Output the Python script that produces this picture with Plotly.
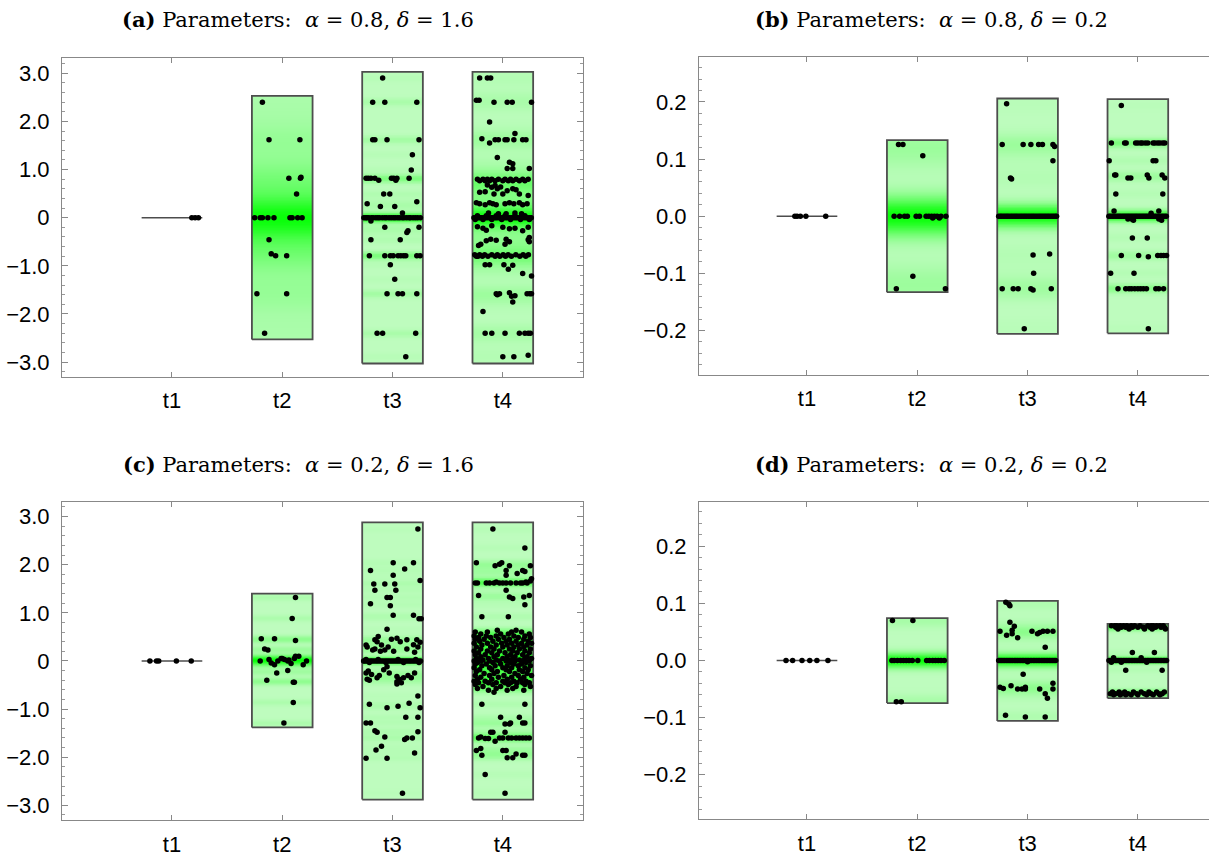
import numpy as np
import plotly.graph_objects as go

W, H = 1209, 857
CATS = ["t1", "t2", "t3", "t4"]
TITLES = [
    "<b>(a)</b> Parameters:  <i>α</i> = 0.8, <i>δ</i> = 1.6",
    "<b>(b)</b> Parameters:  <i>α</i> = 0.8, <i>δ</i> = 0.2",
    "<b>(c)</b> Parameters:  <i>α</i> = 0.2, <i>δ</i> = 1.6",
    "<b>(d)</b> Parameters:  <i>α</i> = 0.2, <i>δ</i> = 0.2",
]

# box extents per category (t1..t4)
A_LO = [0.0, -2.53, -3.03, -3.03]
A_HI = [0.0, 2.53, 3.03, 3.03]
B_LO = [0.0, -0.133, -0.206, -0.205]
B_HI = [0.0, 0.133, 0.206, 0.205]
C_LO = [0.0, -1.38, -2.88, -2.88]
C_HI = [0.0, 1.40, 2.88, 2.88]
D_LO = [0.0, -0.0745, -0.1057, -0.066]
D_HI = [0.0, 0.074, 0.1045, 0.064]

# points: rows of (value, [horizontal jitter offsets])
A_T1 = [(0.0, [0.18, 0.21, 0.24])]
A_T2 = [
    (2.40, [-0.18]), (1.62, [-0.12, 0.16]), (0.84, [0.17]), (0.82, [0.06, 0.165]),
    (0.49, [0.13]), (0.0, [-0.25, -0.2, -0.18, -0.13, -0.075, 0.07, 0.09, 0.14, 0.18]),
    (-0.46, [-0.12]), (-0.75, [-0.10]), (-0.79, [-0.06, 0.04]),
    (-1.58, [-0.23, 0.04]), (-2.40, [-0.16]),
]
A_T3 = [
    (2.90, [-0.09]), (2.40, [-0.18, -0.07, 0.22]), (1.62, [-0.18, -0.16, -0.05, 0.24]),
    (1.31, [0.18]), (0.99, [0.17]),
    (0.82, [-0.24, -0.22, -0.196, -0.16, -0.01, 0.01, 0.04, 0.15]), (0.78, [-0.125, 0.03]),
    (0.49, [-0.08, -0.025]), (0.33, [0.22]), (0.29, [-0.23]), (0.23, [-0.11, 0.02]), (0.10, [0.09]),
    (0.0, [-0.26, -0.243, -0.232, -0.214, -0.19, -0.176, -0.152, -0.134, -0.118, -0.093, -0.071,
           -0.056, -0.032, -0.012, 0.009, 0.027, 0.048, 0.066, 0.088, 0.104, 0.127, 0.149, 0.162,
           0.186, 0.207, 0.228, 0.253]),
    (-0.07, [-0.196]), (-0.2, [-0.07, 0.24]), (-0.27, [0.14]), (-0.31, [0.13]),
    (-0.46, [-0.196, 0.07]),
    (-0.79, [-0.21, -0.07, -0.02, 0.006, 0.05, 0.075, 0.1, 0.12, 0.22, 0.25]),
    (-0.98, [-0.02]), (-1.28, [0.02]), (-1.58, [-0.05, 0.05, 0.09, 0.22]),
    (-2.40, [-0.14, -0.09, 0.21]), (-2.89, [0.12]),
]
A_T4 = [
    (2.90, [-0.21, -0.14, -0.11]), (2.44, [-0.24, -0.215]), (2.40, [-0.08, 0.04, 0.085, 0.26]),
    (1.99, [-0.12]), (1.75, [0.11]), (1.64, [-0.19]),
    (1.62, [-0.07, -0.04, 0.02, 0.04, 0.10, 0.18, 0.21]), (1.55, [-0.12]), (1.25, [-0.05]),
    (1.15, [0.06]), (1.12, [0.09]), (1.02, [0.04, 0.09, 0.24]),
    (0.80, [-0.23, -0.18, -0.14, -0.10, -0.04, 0.02, 0.07, 0.12, 0.18, 0.23]),
    (0.77, [-0.21, -0.16, -0.12, -0.07, 0.0, 0.05, 0.09, 0.15, 0.2]),
    (0.68, [-0.14]), (0.67, [-0.07]), (0.64, [-0.02]), (0.63, [-0.10]), (0.60, [-0.05, 0.09]),
    (0.58, [0.12]), (0.56, [0.04]), (0.54, [-0.16]), (0.53, [-0.21]), (0.49, [-0.08, 0.0, 0.15]),
    (0.46, [0.23]),
    (0.31, [-0.24, -0.12, 0.06, 0.15]), (0.29, [-0.21, -0.09, 0.02, 0.10, 0.22]),
    (0.27, [-0.16, -0.06, 0.18]),
    (0.10, [-0.13, 0.11]), (0.08, [-0.04, 0.03, 0.17]),
    (0.04, [-0.23, -0.15, -0.06, 0.02, 0.11, 0.2]),
    (0.0, [-0.262, -0.25, -0.236, -0.22, -0.205, -0.19, -0.172, -0.158, -0.14, -0.122, -0.105,
           -0.09, -0.07, -0.055, -0.038, -0.02, -0.004, 0.012, 0.03, 0.045, 0.062, 0.08, 0.097,
           0.115, 0.13, 0.148, 0.166, 0.185, 0.204, 0.222, 0.24, 0.258]),
    (-0.04, [-0.25, -0.18, -0.1, -0.01, 0.07, 0.16, 0.24]),
    (-0.17, [-0.10]), (-0.19, [-0.23]), (-0.2, [0.0, 0.23]), (-0.22, [-0.18, 0.11]),
    (-0.23, [0.06]), (-0.26, [-0.15]), (-0.27, [0.18]),
    (-0.41, [0.24]), (-0.45, [-0.11, 0.03]), (-0.46, [0.23]), (-0.47, [-0.06]), (-0.48, [-0.15]),
    (-0.5, [0.06, 0.24]), (-0.55, [-0.2, 0.02]), (-0.58, [-0.22]),
    (-0.77, [-0.255, -0.21, -0.165, -0.10, -0.05, 0.003, 0.048, 0.118, 0.184, 0.232]),
    (-0.80, [-0.24, -0.225, -0.185, -0.135, -0.07, -0.027, 0.024, 0.078, 0.154, 0.208]),
    (-0.98, [-0.16, -0.12, 0.01]), (-0.99, [0.09]), (-1.07, [0.05]), (-1.16, [0.18]),
    (-1.21, [0.26]),
    (-1.58, [-0.06, -0.03, 0.22, 0.245, 0.26]), (-1.60, [-0.05]), (-1.56, [0.06]),
    (-1.63, [0.08]), (-1.62, [0.11]), (-1.75, [0.09]), (-1.95, [-0.18]),
    (-2.40, [-0.16, -0.10, 0.02, 0.15, 0.2, 0.23, 0.25]),
    (-2.89, [0.0, 0.10]), (-2.86, [0.23]),
]

B_T1 = [(0.0, [-0.11, -0.09, -0.06, -0.01, 0.17])]
B_T2 = [
    (0.1255, [-0.17, -0.13]), (0.106, [0.05]),
    (0.0, [-0.21, -0.16, -0.115, -0.09, -0.01, 0.02, 0.08, 0.105, 0.13, 0.155, 0.18, 0.215, 0.26]),
    (-0.003, [0.14, 0.2]),
    (-0.105, [-0.04]), (-0.127, [-0.19, 0.255]),
]
B_T3 = [
    (0.197, [-0.19]), (0.1255, [-0.23, -0.04, 0.03, 0.1, 0.135, 0.23]), (0.122, [0.245]),
    (0.097, [0.23]), (0.067, [-0.155]), (0.065, [-0.145]),
    (0.0, [-0.262, -0.248, -0.236, -0.221, -0.207, -0.193, -0.18, -0.166, -0.151, -0.137, -0.122,
           -0.108, -0.094, -0.081, -0.066, -0.052, -0.037, -0.023, -0.009, 0.006, 0.02, 0.035,
           0.049, 0.063, 0.078, 0.093, 0.107, 0.121, 0.136, 0.151, 0.165, 0.18, 0.194, 0.209,
           0.224, 0.238, 0.252, 0.263]),
    (-0.068, [0.05]), (-0.066, [0.2]), (-0.1, [0.055]),
    (-0.127, [-0.23, -0.13, -0.085, 0.03, 0.215]), (-0.129, [0.05]), (-0.197, [-0.03]),
]
B_T4 = [
    (0.194, [-0.15]),
    (0.128, [-0.24, -0.12, -0.106, -0.02, 0.0, 0.025, 0.04, 0.067, 0.09, 0.138, 0.155, 0.18,
             0.2, 0.226, 0.244]),
    (0.097, [-0.26, 0.138, 0.163]),
    (0.072, [-0.21, -0.2, 0.085, 0.22]), (0.067, [-0.09, -0.064, 0.1, 0.244]),
    (0.039, [-0.2, 0.226]), (0.009, [-0.216, 0.19]), (0.005, [0.12]),
    (0.0, [-0.263, -0.25, -0.234, -0.22, -0.205, -0.19, -0.176, -0.162, -0.147, -0.132, -0.118,
           -0.103, -0.089, -0.075, -0.06, -0.046, -0.031, -0.017, -0.003, 0.012, 0.026, 0.041,
           0.055, 0.07, 0.084, 0.099, 0.113, 0.128, 0.142, 0.157, 0.171, 0.186, 0.2, 0.215,
           0.229, 0.244, 0.258]),
    (-0.005, [-0.057, -0.09, 0.19]), (-0.007, [-0.04, 0.215]),
    (-0.038, [-0.05, 0.085]),
    (-0.069, [-0.15, 0.007, 0.18, 0.21, 0.233, 0.26]), (-0.071, [0.095]),
    (-0.1, [-0.247, -0.035]),
    (-0.127, [-0.18, -0.11, -0.08, -0.057, -0.028, 0.0, 0.025, 0.05, 0.078, 0.163, 0.19, 0.233]),
    (-0.197, [0.095]),
]

C_T1 = [(0.0, [-0.2, -0.14, -0.12, 0.04, 0.175])]
C_T2 = [
    (1.32, [0.12]), (0.885, [0.09]), (0.46, [-0.19, -0.07]), (0.425, [0.12]),
    (0.25, [-0.16]), (0.23, [-0.13]), (0.10, [0.15, 0.12]), (0.05, [-0.01, 0.0, 0.11]),
    (0.03, [-0.12, 0.02]), (0.02, [0.06]),
    (0.0, [-0.2, -0.04, 0.05, 0.22]), (-0.04, [-0.1]), (-0.05, [0.08]),
    (-0.08, [-0.07, 0.19]),
    (-0.2, [0.05]), (-0.25, [-0.05]), (-0.4, [-0.14]), (-0.44, [0.10, 0.11]),
    (-0.86, [0.1]), (-1.29, [0.015]),
]
C_T3 = [
    (2.74, [0.23]), (2.04, [0.006, 0.19]), (1.91, [0.11]), (1.88, [-0.2]), (1.78, [0.006]),
    (1.67, [0.25]), (1.6, [-0.17, -0.07, 0.02]), (1.47, [-0.16, 0.03]), (1.32, [-0.05, -0.02]),
    (1.19, [-0.2]), (1.15, [-0.02]), (0.95, [0.006, 0.19]), (0.88, [0.24, 0.26]),
    (0.66, [-0.05]), (0.51, [-0.13]), (0.47, [0.04]), (0.45, [-0.01]),
    (0.44, [-0.16, 0.13, 0.22]), (0.4, [-0.14, 0.07]), (0.39, [0.25]), (0.34, [0.19]),
    (0.33, [-0.24, -0.1]), (0.29, [-0.04, 0.23, -0.23]), (0.25, [-0.16, 0.13]),
    (0.23, [-0.07, -0.18]), (0.2, [-0.11, 0.01]), (0.18, [0.2]),
    (0.03, [-0.24, -0.13, 0.05, 0.21]),
    (0.0, [-0.262, -0.25, -0.233, -0.218, -0.2, -0.186, -0.168, -0.15, -0.134, -0.117, -0.1,
           -0.084, -0.066, -0.05, -0.033, -0.016, 0.0, 0.017, 0.034, 0.05, 0.067, 0.084, 0.1,
           0.118, 0.135, 0.152, 0.168, 0.186, 0.203, 0.22, 0.236, 0.254]),
    (-0.03, [-0.21, -0.06, 0.1, 0.24]),
    (-0.12, [-0.05]), (-0.18, [-0.08]), (-0.21, [-0.22]), (-0.25, [-0.24, -0.03, 0.2]),
    (-0.28, [-0.19]), (-0.3, [-0.12, 0.14]), (-0.32, [0.04]), (-0.35, [-0.14, 0.1, 0.17]),
    (-0.38, [0.06, -0.23]), (-0.4, [-0.21]), (-0.43, [0.04]), (-0.45, [0.08]), (-0.48, [0.04]),
    (-0.73, [0.23]), (-0.88, [0.15]), (-0.9, [-0.21]), (-0.94, [0.05]), (-0.97, [-0.05, 0.25]),
    (-1.17, [0.12, 0.23]), (-1.29, [-0.24, -0.2]), (-1.45, [-0.16]), (-1.47, [0.23]),
    (-1.48, [-0.14]), (-1.58, [-0.07]), (-1.6, [0.13, 0.18]), (-1.63, [0.11]),
    (-1.77, [-0.1]), (-1.85, [-0.15]), (-1.91, [0.2]), (-2.02, [-0.24, -0.05]),
    (-2.75, [0.09]),
]
C_T4 = [
    (2.74, [-0.09]), (2.35, [0.2]),
    (2.04, [-0.24, -0.01]), (2.01, [-0.03]), (1.98, [-0.07, 0.06, 0.25]), (1.88, [0.03, 0.18]),
    (1.86, [0.2]), (1.82, [0.13]), (1.78, [0.03]),
    (1.71, [0.26]), (1.66, [0.25]), (1.64, [-0.06, 0.21]),
    (1.62, [-0.25, -0.23, -0.15, -0.12, -0.08, -0.03, 0.0, 0.03, 0.07, 0.12, 0.16, 0.18, 0.22]),
    (1.47, [0.03]), (1.36, [-0.22, 0.24]), (1.33, [0.06, 0.19]), (1.30, [0.09]), (1.17, [0.2]),
    (0.92, [-0.19, 0.05]),
    (0.64, [-0.05, 0.12]),
    (0.60, [-0.25, -0.14, 0.08, 0.17]),
    (0.56, [-0.2, -0.02, 0.05, 0.24]),
    (0.52, [-0.26, -0.15, -0.06, 0.1, 0.2]),
    (0.49, [-0.22, -0.11, 0.01, 0.14, 0.25]),
    (0.45, [-0.25, -0.17, -0.04, 0.06, 0.19]),
    (0.41, [-0.21, -0.09, 0.03, 0.12, 0.23]),
    (0.37, [-0.26, -0.14, -0.01, 0.08, 0.17, 0.26]),
    (0.33, [-0.19, -0.06, 0.04, 0.14, 0.22]),
    (0.29, [-0.24, -0.11, 0.0, 0.1, 0.19]),
    (0.25, [-0.2, -0.08, 0.06, 0.15, 0.25]),
    (0.21, [-0.26, -0.14, -0.03, 0.09, 0.2]),
    (0.17, [-0.22, -0.1, 0.02, 0.13, 0.24]),
    (0.13, [-0.25, -0.16, -0.05, 0.07, 0.18]),
    (0.09, [-0.2, -0.08, 0.04, 0.11, 0.22]),
    (0.05, [-0.24, -0.13, 0.0, 0.09, 0.2, 0.26]),
    (0.02, [-0.18, -0.06, 0.05, 0.15]),
    (0.0, [-0.26, -0.2, -0.12, -0.03, 0.03, 0.11, 0.18, 0.24]),
    (-0.03, [-0.23, -0.09, 0.07, 0.21]),
    (-0.06, [-0.25, -0.15, -0.02, 0.1, 0.17]),
    (-0.1, [-0.19, -0.07, 0.04, 0.14, 0.25]),
    (-0.14, [-0.26, -0.12, 0.0, 0.08, 0.2]),
    (-0.18, [-0.21, -0.1, 0.03, 0.15, 0.23]),
    (-0.22, [-0.24, -0.05, 0.06, 0.18]),
    (-0.26, [-0.17, -0.08, 0.11, 0.22]),
    (-0.3, [-0.25, -0.12, 0.01, 0.14, 0.26]),
    (-0.34, [-0.2, -0.04, 0.08, 0.19]),
    (-0.38, [-0.23, -0.1, 0.04, 0.16]),
    (-0.42, [-0.26, -0.16, 0.0, 0.1, 0.21]),
    (-0.45, [-0.22, -0.13, -0.06, 0.02, 0.07, 0.13, 0.18, 0.24]),
    (-0.49, [-0.25, -0.09, 0.05, 0.2]),
    (-0.53, [-0.18, -0.02, 0.12, 0.25]),
    (-0.57, [-0.23, -0.06, 0.09]),
    (-0.61, [-0.13, 0.04, 0.19]),
    (-0.65, [-0.08]),
    (-0.9, [-0.19, 0.2]), (-1.17, [-0.02, 0.15]), (-1.29, [0.07, 0.18, 0.2]),
    (-1.31, [0.02, 0.06]),
    (-1.48, [-0.11, -0.09, 0.02]), (-1.58, [-0.2]),
    (-1.6, [-0.22, -0.03, 0.0, 0.05, 0.08, 0.12, 0.15, 0.18, 0.21, 0.24]),
    (-1.61, [-0.16, -0.13]), (-1.67, [-0.07]),
    (-1.82, [-0.2]), (-1.86, [-0.24, 0.0, 0.03]), (-1.93, [0.12]), (-1.96, [-0.19, 0.18, 0.2]),
    (-2.01, [0.04, 0.09]), (-2.36, [-0.16]), (-2.75, [0.02]),
]

D_T1 = [(0.0, [-0.19, -0.13, -0.045, 0.025, 0.09, 0.19])]
D_T2 = [
    (0.07, [-0.225, -0.04]), (-0.072, [-0.19, -0.145]),
    (0.0, [-0.23, -0.21, -0.18, -0.15, -0.125, -0.10, -0.075, -0.045, 0.005, 0.085, 0.11, 0.14,
           0.165, 0.19, 0.215, 0.245]),
]
D_T3 = [
    (0.102, [-0.197]), (0.099, [-0.17]), (0.096, [-0.16]), (0.067, [-0.16]), (0.06, [-0.12]),
    (0.053, [-0.14]), (0.051, [-0.25, 0.04, 0.14, 0.18, 0.23]), (0.049, [0.11]),
    (0.047, [-0.14, 0.09]), (0.044, [-0.19]), (0.04, [-0.09]), (0.023, [0.16]),
    (0.0, [-0.262, -0.25, -0.236, -0.222, -0.207, -0.193, -0.178, -0.164, -0.15, -0.135, -0.12,
           -0.106, -0.092, -0.077, -0.062, -0.048, -0.034, -0.02, -0.005, 0.009, 0.024, 0.038,
           0.053, 0.067, 0.082, 0.096, 0.11, 0.125, 0.14, 0.154, 0.168, 0.183, 0.197, 0.212,
           0.226, 0.24, 0.255]),
    (-0.002, [0.0]), (-0.024, [-0.04]),
    (-0.044, [-0.15]), (-0.047, [-0.25, -0.02]), (-0.049, [-0.22]),
    (-0.05, [-0.09, -0.05, -0.02, 0.11, 0.23]), (-0.04, [0.23]), (-0.058, [0.16]),
    (-0.066, [0.18]), (-0.096, [-0.2]), (-0.099, [-0.02, 0.16]),
]
D_T4 = [
    (0.061, [-0.24, -0.21, -0.19, -0.16, -0.13, -0.1, -0.06, -0.03, 0.02, 0.09, 0.12, 0.14,
             0.17, 0.2, 0.23]),
    (0.058, [-0.2, -0.15, -0.11, -0.05, 0.0, 0.05, 0.11, 0.16, 0.21, 0.24]),
    (0.055, [-0.18, -0.08, 0.06, 0.13, 0.25]),
    (0.014, [-0.05, 0.15]), (0.005, [-0.22, 0.03]),
    (0.0, [-0.262, -0.248, -0.233, -0.219, -0.204, -0.19, -0.175, -0.161, -0.146, -0.132,
           -0.117, -0.103, -0.088, -0.074, -0.059, -0.045, -0.03, -0.016, -0.001, 0.013, 0.028,
           0.042, 0.057, 0.071, 0.086, 0.1, 0.115, 0.129, 0.144, 0.158, 0.173, 0.187, 0.202,
           0.216, 0.231, 0.245, 0.26]),
    (-0.003, [-0.24, -0.15, 0.08]), (-0.017, [-0.11, 0.22]),
    (-0.055, [-0.23, -0.17, -0.12, -0.04, 0.03, 0.1, 0.17, 0.24]),
    (-0.058, [-0.25, -0.2, -0.14, -0.09, -0.01, 0.06, 0.12, 0.19, 0.22]),
    (-0.06, [-0.22, -0.16, -0.11, -0.06, 0.0, 0.08, 0.14, 0.2]),
]

PANELS = [
    dict(groups=[A_T1, A_T2, A_T3, A_T4], lo=A_LO, hi=A_HI),
    dict(groups=[B_T1, B_T2, B_T3, B_T4], lo=B_LO, hi=B_HI),
    dict(groups=[C_T1, C_T2, C_T3, C_T4], lo=C_LO, hi=C_HI),
    dict(groups=[D_T1, D_T2, D_T3, D_T4], lo=D_LO, hi=D_HI),
]
# kernel widths for the density shading (style)
BW = [[0, 0.33, 0.06, 0.14], [0, 0.024, 0.014, 0.006], [0, 0.05, 0.05, 0.06], [0, 0.009, 0.008, 0.004]]

# layout geometry (pixels)
FRAMES = [(62, 583, 59, 381), (699, 1209, 58, 379), (62, 583, 507, 829), (699, 1209, 507, 828)]
XR = [(0.003, 4.727), (0.021, 4.645), (0.003, 4.727), (0.021, 4.645)]
YR = [3.31, 0.278, 3.31, 0.278]
TITLE_POS = [(298, 20), (932, 20), (298, 469), (932, 469)]

HW = 0.275
LIGHT = "rgb(190,252,190)"
BRIGHT = "rgb(10,255,10)"
TICKFONT = dict(family="Liberation Sans, Arial, sans-serif", size=22, color="black")

fig = go.Figure()


def expand(rows):
    ys, dx = [], []
    for v, offs in rows:
        for o in offs:
            ys.append(v)
            dx.append(o)
    return np.array(ys), np.array(dx)


for p, panel in enumerate(PANELS):
    s = "" if p == 0 else str(p + 1)
    xa, ya = "x" + s, "y" + s
    for i, rows in enumerate(panel["groups"]):
        c = i + 1
        lo, hi = panel["lo"][i], panel["hi"][i]
        ys, dx = expand(rows)
        if hi > lo:
            edges = np.linspace(lo, hi, 401)
            mids = 0.5 * (edges[1:] + edges[:-1])
            bw = BW[p][i]
            dens = np.exp(-0.5 * ((mids[:, None] - ys[None, :]) / bw) ** 2).sum(axis=1)
            dens = dens / dens.max()
            fig.add_trace(go.Heatmap(
                x=[c - HW, c + HW], y=edges, z=dens[:, None], zmin=0, zmax=1,
                colorscale=[[0, LIGHT], [1, BRIGHT]], showscale=False, zsmooth=False,
                hoverinfo="skip", xaxis=xa, yaxis=ya))
            fig.add_trace(go.Scatter(
                x=[c - HW, c + HW, c + HW, c - HW, c - HW], y=[lo, lo, hi, hi, lo],
                mode="lines", line=dict(color="#4d4d4d", width=1.8),
                hoverinfo="skip", showlegend=False, xaxis=xa, yaxis=ya))
        else:
            fig.add_trace(go.Scatter(
                x=[c - HW, c + HW], y=[lo, hi], mode="lines",
                line=dict(color="#4d4d4d", width=1.6),
                hoverinfo="skip", showlegend=False, xaxis=xa, yaxis=ya))
        fig.add_trace(go.Scatter(
            x=c + dx, y=ys, mode="markers",
            marker=dict(size=5.5, color="black", line=dict(width=0)),
            showlegend=False, xaxis=xa, yaxis=ya))

layout = dict(width=W, height=H, margin=dict(l=0, r=0, t=0, b=0),
              paper_bgcolor="white", plot_bgcolor="white", showlegend=False)
annotations = []
for p in range(4):
    s = "" if p == 0 else str(p + 1)
    x0, x1, y0, y1 = FRAMES[p]
    big = YR[p] > 1
    if big:
        tv = [3, 2, 1, 0, -1, -2, -3]
        tt = ["3.0", "2.0", "1.0", "0", "\u22121.0", "\u22122.0", "\u22123.0"]
        minor_vals = [round(v, 2) for v in np.arange(-3.2, 3.21, 0.2)]
    else:
        tv = [0.2, 0.1, 0.0, -0.1, -0.2]
        tt = ["0.2", "0.1", "0.0", "\u22120.1", "\u22120.2"]
        minor_vals = [round(v, 3) for v in np.arange(-0.26, 0.261, 0.02)]
    layout["xaxis" + s] = dict(
        domain=[x0 / W, min(x1 / W, 1.0)], range=list(XR[p]), anchor="y" + s,
        tickmode="array", tickvals=[1, 2, 3, 4], ticktext=CATS,
        ticks="inside", ticklen=5, tickcolor="#888888", tickwidth=1,
        showline=True, linecolor="#888888", linewidth=1, mirror="ticks",
        showgrid=False, zeroline=False, tickfont=TICKFONT, ticklabelstandoff=4,
        fixedrange=True)
    layout["yaxis" + s] = dict(
        domain=[1 - y1 / H, 1 - y0 / H], range=[-YR[p], YR[p]], anchor="x" + s,
        tickmode="array", tickvals=tv, ticktext=tt,
        ticks="inside", ticklen=6, tickcolor="#888888", tickwidth=1,
        minor=dict(tickmode="array", tickvals=minor_vals, ticks="inside", ticklen=3,
                   tickcolor="#999999", showgrid=False),
        showline=True, linecolor="#888888", linewidth=1,
        mirror="ticks" if p in (0, 2) else False,
        showgrid=False, zeroline=False, tickfont=TICKFONT, ticklabelstandoff=7,
        fixedrange=True)
    tx, ty = TITLE_POS[p]
    annotations.append(dict(
        text=TITLES[p], x=tx / W, y=1 - ty / H, xref="paper", yref="paper",
        xanchor="center", yanchor="middle", showarrow=False,
        font=dict(family="DejaVu Serif, Liberation Serif, serif", size=21, color="black")))
layout["annotations"] = annotations
fig.update_layout(**layout)
fig.write_html("out.html")
